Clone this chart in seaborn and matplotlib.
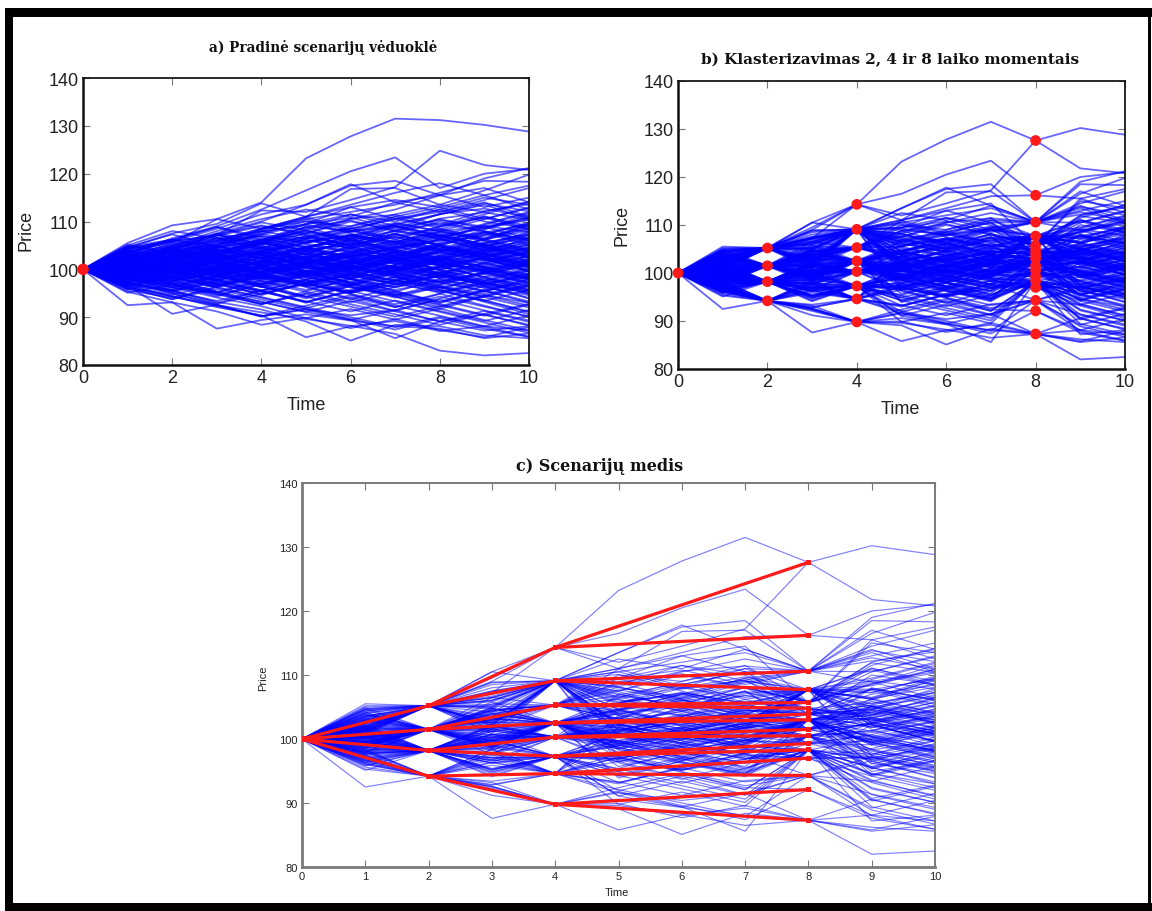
import numpy as np
import pandas as pd
import matplotlib
matplotlib.use("Agg")
import matplotlib.pyplot as plt
from matplotlib.patches import Rectangle
import seaborn as sns

# ---------------------------------------------------------------------------
# Scenario data: price paths at time steps 1..10 (every path starts at 100)
# ---------------------------------------------------------------------------
time_steps = list(range(11))
start_price = 100.0

upper_paths = [
    [102.5, 105.5, 110.5, 114.0, 123.2, 127.8, 131.5, 131.2, 130.2, 128.8],
    [103.0, 106.5, 109.0, 112.5, 116.5, 120.5, 123.4, 117.0, 120.0, 121.0],
    [101.5, 104.8, 107.2, 112.3, 112.0, 114.5, 117.2, 124.8, 121.8, 120.8],
    [101.0, 104.0, 107.5, 110.0, 113.5, 117.5, 118.5, 115.5, 119.0, 121.2],
    [102.0, 104.5, 106.0, 108.5, 111.0, 116.8, 117.0, 113.5, 116.5, 119.8],
    [101.2, 103.5, 105.8, 108.0, 110.5, 112.0, 113.5, 116.0, 118.5, 118.3],
    [100.5, 102.5, 104.5, 107.8, 109.5, 113.0, 114.5, 113.0, 115.5, 117.5],
    [102.8, 104.0, 107.0, 109.0, 107.5, 110.5, 112.5, 115.5, 117.0, 114.0],
    [103.5, 105.8, 108.5, 111.5, 113.5, 117.8, 114.0, 115.5, 113.0, 115.0],
    [104.5, 107.5, 109.5, 113.8, 111.0, 113.5, 116.0, 118.0, 115.5, 112.5],
    [101.8, 105.0, 108.0, 110.5, 112.5, 111.0, 114.0, 112.0, 114.5, 117.0],
    [99.5, 102.5, 105.0, 108.5, 110.0, 109.0, 111.5, 113.5, 112.0, 114.0],
    [102.2, 103.0, 106.5, 105.5, 108.5, 111.5, 110.0, 112.5, 115.0, 113.5],
    [100.8, 103.8, 102.5, 105.5, 109.0, 108.0, 111.0, 113.0, 110.5, 112.8],
    [103.8, 102.5, 104.5, 107.0, 105.5, 108.5, 110.5, 109.0, 111.5, 114.2],
    [105.5, 109.2, 110.5, 108.5, 111.0, 113.0, 110.5, 112.0, 114.0, 111.0],
    [104.0, 106.0, 103.5, 106.0, 108.0, 106.5, 109.5, 111.5, 113.5, 110.5],
    [101.0, 100.5, 103.5, 106.5, 104.5, 107.0, 109.5, 108.0, 110.5, 113.0],
    [102.5, 105.0, 107.5, 106.0, 109.5, 111.5, 109.0, 107.0, 109.5, 112.0],
    [99.0, 101.5, 104.0, 103.0, 106.5, 108.5, 110.5, 112.5, 110.0, 108.5],
    [103.2, 101.0, 103.0, 105.5, 107.5, 110.0, 108.0, 110.5, 108.5, 111.5],
    [104.8, 103.5, 106.0, 108.5, 110.5, 108.0, 106.5, 109.0, 111.0, 109.0],
    [100.2, 103.0, 101.5, 104.0, 102.5, 105.5, 108.0, 106.5, 109.0, 110.5],
    [101.5, 99.5, 102.0, 104.5, 107.0, 105.0, 107.5, 110.0, 108.0, 106.0],
    [105.0, 108.0, 106.5, 104.0, 106.5, 109.0, 111.0, 108.5, 106.5, 109.5],
]

middle_paths = [
    [100.7, 102.9, 101.4, 103.8, 105.1, 103.6, 106.2, 104.3, 107.0, 108.4],
    [98.6, 100.9, 103.1, 101.2, 103.9, 105.2, 103.3, 106.4, 104.1, 101.8],
    [101.3, 99.2, 101.6, 103.7, 101.9, 99.8, 102.7, 104.9, 103.2, 105.8],
    [102.4, 104.7, 102.2, 100.9, 102.3, 104.6, 106.8, 104.2, 102.9, 104.4],
    [97.8, 99.4, 101.9, 103.2, 101.1, 103.8, 101.6, 99.2, 101.3, 103.9],
    [99.1, 97.3, 99.8, 98.2, 100.7, 102.9, 104.1, 102.6, 100.6, 98.7],
    [103.1, 101.2, 99.6, 101.4, 103.9, 102.2, 100.1, 102.8, 104.6, 106.9],
    [100.1, 102.6, 104.2, 102.1, 99.7, 98.3, 100.9, 102.4, 100.2, 101.7],
    [96.4, 98.9, 100.2, 99.1, 101.4, 103.3, 101.2, 99.8, 97.6, 100.3],
    [104.2, 101.8, 104.3, 106.1, 103.8, 102.1, 104.9, 102.2, 100.4, 98.1],
    [97.9, 100.3, 98.2, 100.8, 98.7, 96.6, 99.3, 101.6, 103.1, 100.8],
    [101.6, 103.8, 101.1, 99.2, 97.3, 99.9, 101.8, 99.1, 97.4, 95.6],
    [99.4, 101.7, 103.9, 105.6, 103.2, 105.9, 107.4, 104.8, 103.3, 101.2],
    [102.1, 99.7, 98.3, 100.4, 102.6, 104.3, 101.8, 104.2, 106.3, 104.1],
    [96.8, 95.4, 97.9, 99.6, 101.8, 99.7, 97.6, 100.4, 102.2, 99.6],
    [100.9, 98.6, 100.7, 103.1, 100.8, 98.9, 96.8, 99.4, 101.3, 103.4],
    [103.6, 105.7, 103.2, 105.3, 107.4, 104.8, 102.7, 100.8, 103.4, 101.2],
    [98.7, 96.8, 95.2, 97.8, 99.3, 101.7, 103.8, 101.3, 99.1, 97.2],
    [101.3, 103.4, 105.0, 102.8, 100.6, 103.2, 105.3, 107.2, 104.7, 107.9],
    [99.3, 101.2, 98.8, 96.7, 99.2, 97.3, 99.8, 101.9, 99.3, 101.8],
    [102.7, 100.6, 103.1, 100.5, 98.6, 101.1, 103.0, 105.2, 102.6, 100.4],
    [95.9, 98.2, 96.3, 98.7, 100.9, 98.1, 96.2, 98.9, 100.7, 102.8],
    [104.6, 102.3, 100.2, 98.4, 100.8, 102.9, 100.3, 98.2, 96.1, 98.4],
    [100.2, 97.8, 100.3, 102.4, 104.3, 106.6, 103.9, 101.7, 104.2, 106.1],
    [98.1, 100.4, 102.6, 100.1, 97.9, 100.5, 102.4, 99.9, 97.8, 95.9],
    [101.9, 104.2, 106.1, 104.4, 106.9, 108.7, 106.2, 108.9, 110.8, 108.3],
    [97.2, 99.1, 97.0, 94.8, 96.9, 99.2, 97.3, 95.1, 97.6, 99.7],
    [103.3, 105.1, 107.3, 109.2, 107.1, 104.9, 107.3, 105.2, 107.8, 105.4],
    [99.8, 102.1, 99.9, 97.6, 95.7, 97.9, 100.1, 102.3, 104.4, 102.2],
    [100.4, 101.2, 103.6, 105.8, 108.1, 106.2, 104.1, 106.8, 108.6, 110.9],
    [96.2, 94.7, 96.8, 94.9, 97.1, 95.2, 97.4, 99.6, 97.2, 94.8],
    [102.9, 100.7, 98.9, 96.8, 98.7, 96.4, 94.6, 96.8, 99.1, 101.3],
    [98.9, 101.4, 99.3, 101.6, 99.4, 101.9, 99.7, 97.4, 95.3, 97.7],
    [104.1, 106.3, 104.2, 102.3, 104.6, 106.9, 109.1, 107.2, 105.1, 103.0],
    [100.6, 98.4, 96.3, 98.8, 101.2, 103.5, 105.7, 108.0, 105.9, 103.6],
    [97.6, 99.8, 102.1, 104.4, 102.2, 100.3, 98.2, 100.6, 98.4, 96.3],
    [101.7, 99.6, 97.8, 95.6, 97.8, 100.2, 102.1, 99.8, 102.4, 104.7],
    [99.6, 97.4, 99.7, 101.8, 99.6, 97.2, 95.1, 93.2, 95.7, 97.9],
    [102.3, 104.6, 106.7, 104.5, 102.4, 100.2, 102.7, 105.1, 107.3, 109.6],
    [98.3, 96.1, 98.4, 100.6, 102.9, 100.7, 98.6, 96.4, 94.2, 96.5],
    [103.9, 101.7, 103.8, 101.5, 99.3, 101.6, 99.4, 97.2, 99.5, 97.3],
    [100.3, 102.4, 100.1, 102.5, 104.7, 102.5, 100.2, 102.6, 100.3, 98.1],
    [97.3, 95.2, 97.5, 95.3, 93.2, 95.4, 97.7, 95.5, 93.4, 91.2],
    [101.4, 103.7, 101.5, 99.2, 101.5, 99.3, 101.7, 103.9, 106.2, 104.0],
    [99.9, 102.2, 104.4, 102.2, 104.5, 102.3, 104.6, 106.9, 104.7, 102.5],
]

lower_paths = [
    [97.5, 95.0, 92.5, 91.0, 89.6, 88.2, 86.5, 83.0, 82.0, 82.5],
    [92.5, 93.1, 87.6, 89.4, 90.6, 89.3, 88.1, 87.6, 85.6, 86.6],
    [96.1, 94.4, 92.1, 90.4, 85.8, 88.1, 89.2, 87.1, 88.1, 87.2],
    [97.1, 95.6, 93.2, 91.6, 89.1, 85.1, 88.4, 88.1, 86.2, 85.6],
    [98.1, 96.2, 95.1, 93.2, 91.1, 89.4, 85.6, 89.1, 87.2, 88.1],
    [96.6, 90.7, 92.6, 90.2, 91.6, 90.4, 91.5, 89.1, 90.6, 88.2],
    [95.3, 93.1, 91.2, 88.4, 89.9, 87.7, 89.6, 87.3, 85.8, 87.9],
    [96.8, 94.2, 92.6, 90.1, 91.8, 89.6, 87.4, 89.8, 87.6, 85.9],
    [98.4, 96.3, 94.1, 92.3, 89.8, 91.7, 89.5, 91.8, 89.4, 87.2],
    [95.8, 97.6, 95.4, 93.2, 91.1, 93.4, 91.2, 89.1, 91.3, 89.0],
    [99.2, 97.1, 94.9, 92.8, 94.9, 92.7, 90.6, 88.4, 90.7, 92.8],
    [97.4, 95.3, 93.4, 95.6, 93.3, 91.2, 93.5, 91.3, 89.2, 91.5],
    [96.3, 98.4, 96.2, 94.1, 91.9, 94.2, 92.1, 94.3, 92.2, 90.1],
    [98.7, 96.5, 98.6, 96.4, 94.3, 92.2, 90.1, 92.3, 94.6, 92.4],
    [95.1, 96.9, 94.8, 92.7, 94.9, 97.1, 94.9, 92.7, 90.5, 88.4],
    [99.5, 97.3, 95.2, 97.4, 95.3, 93.1, 95.4, 93.2, 95.5, 93.3],
    [97.9, 95.7, 97.8, 95.6, 97.7, 95.5, 93.3, 91.1, 88.9, 86.7],
    [96.0, 93.8, 95.9, 93.7, 91.6, 89.4, 91.5, 93.7, 91.4, 89.3],
    [98.9, 100.8, 98.6, 96.4, 94.2, 96.5, 94.3, 92.1, 94.4, 96.7],
    [97.0, 94.9, 92.8, 94.9, 97.1, 94.9, 92.7, 94.9, 97.2, 95.0],
    [95.6, 94.1, 96.3, 94.2, 92.1, 90.0, 87.9, 90.1, 88.0, 85.9],
    [99.0, 96.8, 94.6, 96.9, 99.1, 96.9, 94.7, 92.5, 90.3, 92.6],
    [97.7, 99.8, 97.5, 95.4, 93.2, 95.5, 97.8, 95.6, 93.4, 95.7],
    [96.5, 94.4, 92.3, 90.2, 92.4, 94.6, 92.4, 90.3, 88.1, 90.4],
    [98.5, 96.4, 98.5, 100.7, 98.5, 96.3, 94.1, 96.4, 94.2, 92.0],
]

core_paths = [
    [103.4, 105.9, 107.1, 109.8, 108.2, 110.6, 111.4, 109.3, 112.2, 113.6],
    [104.7, 106.2, 104.9, 107.3, 109.4, 110.8, 108.5, 111.6, 112.7, 110.9],
    [102.6, 104.1, 107.3, 105.2, 106.6, 104.3, 107.1, 108.4, 106.2, 109.3],
    [101.1, 103.9, 105.2, 107.4, 105.8, 107.1, 105.6, 107.9, 109.1, 107.8],
    [105.2, 103.6, 105.1, 107.9, 109.3, 107.8, 109.2, 111.5, 113.8, 112.1],
    [100.9, 102.7, 105.8, 103.4, 105.6, 107.9, 109.2, 106.8, 105.3, 107.6],
    [103.7, 101.9, 103.3, 105.6, 104.1, 105.3, 108.2, 110.6, 111.9, 110.4],
    [99.7, 102.3, 104.6, 106.1, 108.8, 110.2, 108.1, 106.6, 108.7, 110.3],
    [102.0, 104.6, 102.4, 103.8, 106.1, 104.5, 102.7, 105.4, 107.2, 109.8],
    [104.3, 106.1, 108.9, 106.7, 104.6, 106.0, 108.8, 110.3, 108.9, 106.4],
    [100.3, 101.1, 99.6, 101.7, 103.3, 101.2, 103.8, 102.1, 104.2, 102.7],
    [99.4, 100.7, 98.9, 100.2, 98.4, 100.9, 99.1, 100.6, 98.3, 99.7],
    [101.8, 100.6, 102.3, 100.7, 102.9, 101.1, 103.4, 101.6, 99.8, 101.3],
    [98.4, 99.7, 101.2, 99.5, 101.6, 100.1, 98.6, 100.3, 102.6, 100.9],
    [102.4, 101.3, 99.8, 101.9, 100.4, 102.7, 104.1, 102.3, 103.8, 101.7],
    [100.6, 99.1, 100.8, 98.7, 97.3, 98.9, 100.6, 98.8, 97.1, 98.6],
    [97.8, 99.3, 97.6, 99.2, 100.9, 99.4, 97.7, 96.2, 98.1, 96.6],
    [101.5, 102.8, 101.2, 102.9, 101.3, 103.1, 101.6, 103.7, 105.3, 103.9],
    [99.1, 98.2, 99.9, 101.4, 99.7, 98.1, 99.8, 101.5, 99.9, 98.2],
    [100.1, 101.6, 103.2, 101.7, 100.2, 101.8, 100.3, 98.7, 100.4, 102.1],
    [102.9, 103.6, 102.1, 103.7, 102.2, 100.6, 102.4, 100.9, 102.6, 104.3],
    [98.9, 97.6, 99.1, 97.4, 98.9, 100.5, 98.8, 97.2, 95.6, 97.3],
    [101.1, 102.3, 103.9, 102.4, 104.1, 102.6, 101.1, 102.8, 101.2, 99.6],
    [99.6, 100.9, 99.3, 97.8, 99.4, 97.9, 96.3, 97.8, 96.2, 94.6],
    [100.4, 99.3, 97.9, 99.5, 101.1, 102.7, 101.2, 102.9, 104.5, 102.9],
]

calm_paths = [
    [101.9, 103.2, 104.8, 103.1, 105.7, 106.9, 105.2, 107.8, 106.1, 108.7],
    [98.2, 96.9, 98.7, 100.3, 99.0, 101.4, 102.8, 101.1, 99.6, 100.9],
    [102.6, 101.0, 102.9, 104.5, 106.2, 104.4, 105.9, 104.1, 102.8, 104.6],
    [99.3, 100.8, 102.7, 101.0, 99.2, 100.7, 99.1, 97.5, 99.3, 97.9],
    [100.8, 102.1, 100.6, 98.9, 100.4, 98.8, 100.5, 102.3, 103.7, 105.2],
    [97.4, 98.8, 100.6, 102.2, 100.3, 101.9, 103.6, 101.7, 103.4, 105.0],
    [103.9, 102.4, 100.7, 102.5, 101.0, 102.8, 104.5, 106.3, 104.6, 103.0],
    [99.8, 98.3, 96.7, 98.4, 96.9, 95.2, 96.9, 98.6, 96.8, 95.1],
    [101.2, 99.6, 101.3, 99.7, 101.5, 103.2, 104.8, 103.1, 105.0, 106.6],
    [98.7, 100.2, 98.6, 96.9, 98.5, 100.1, 101.8, 103.6, 101.9, 100.2],
    [104.4, 105.8, 107.2, 105.5, 103.9, 105.6, 103.8, 102.1, 103.9, 105.7],
    [100.5, 101.8, 103.3, 104.9, 103.2, 101.6, 103.3, 101.5, 99.8, 98.2],
    [96.9, 98.3, 99.8, 98.1, 96.5, 98.2, 99.9, 98.2, 100.0, 101.6],
    [102.1, 100.4, 98.8, 100.6, 102.3, 100.5, 98.9, 100.7, 102.4, 100.8],
    [99.0, 100.6, 102.2, 103.9, 105.5, 107.2, 105.6, 103.8, 105.6, 107.3],
    [101.6, 103.3, 101.7, 100.0, 98.3, 96.7, 98.4, 96.6, 94.9, 96.6],
    [100.0, 98.5, 100.1, 101.7, 103.3, 101.6, 100.0, 98.3, 100.1, 98.4],
    [103.1, 104.7, 106.4, 108.0, 106.3, 108.0, 109.7, 108.0, 106.3, 108.1],
    [98.0, 99.5, 97.9, 96.3, 97.9, 96.2, 94.6, 96.3, 94.6, 93.0],
    [101.4, 102.7, 101.1, 102.8, 104.4, 102.7, 104.4, 106.1, 107.8, 106.1],
    [99.5, 97.9, 99.4, 100.9, 99.2, 100.8, 102.4, 100.7, 102.4, 104.0],
    [102.8, 104.2, 102.6, 101.0, 102.6, 104.3, 102.6, 104.3, 102.6, 100.9],
    [97.1, 95.6, 97.2, 98.8, 100.4, 98.7, 97.0, 98.7, 97.0, 98.8],
    [100.9, 102.5, 104.0, 102.4, 100.8, 99.2, 100.8, 99.1, 97.4, 99.1],
    [104.9, 103.3, 104.8, 103.1, 104.7, 106.3, 108.0, 109.6, 107.9, 106.2],
    [99.1, 100.5, 99.0, 100.6, 99.0, 97.3, 95.7, 97.4, 99.1, 100.8],
    [101.7, 100.2, 101.8, 103.4, 101.8, 103.5, 101.8, 100.1, 101.8, 103.5],
    [98.5, 100.1, 101.7, 100.1, 101.7, 100.0, 101.7, 103.4, 105.1, 103.4],
    [102.3, 103.8, 105.4, 107.0, 105.4, 103.7, 102.1, 103.8, 105.5, 107.2],
    [100.2, 98.6, 97.0, 95.4, 97.0, 98.7, 97.0, 95.3, 97.0, 95.3],
    [96.7, 98.2, 96.6, 98.2, 99.8, 101.4, 99.7, 101.4, 99.7, 98.0],
    [103.5, 102.0, 103.6, 105.2, 106.8, 105.1, 106.8, 105.1, 103.4, 101.7],
    [99.7, 101.3, 99.7, 98.1, 99.7, 101.3, 103.0, 104.7, 103.0, 101.3],
    [101.0, 99.4, 97.8, 99.4, 101.0, 99.3, 97.6, 99.3, 101.0, 102.7],
    [98.9, 100.4, 102.0, 103.6, 102.0, 103.6, 105.3, 103.6, 101.9, 103.6],
    [102.5, 104.0, 102.4, 104.0, 105.6, 107.3, 105.6, 103.9, 102.2, 100.5],
    [100.4, 101.9, 100.3, 98.7, 97.1, 98.7, 100.4, 102.1, 100.4, 98.7],
    [97.7, 99.2, 100.7, 99.1, 100.7, 102.3, 100.6, 98.9, 97.2, 95.5],
    [101.3, 102.9, 104.5, 106.1, 107.7, 106.0, 104.3, 106.0, 107.7, 109.4],
    [99.9, 98.4, 99.9, 98.3, 96.7, 95.1, 96.8, 98.5, 96.8, 98.5],
]

swing_paths = [
    [103.0, 100.2, 102.9, 105.8, 103.1, 106.4, 109.0, 106.2, 109.3, 111.8],
    [97.0, 99.8, 97.1, 94.6, 97.3, 94.8, 92.1, 94.9, 92.4, 90.1],
    [101.5, 104.3, 101.7, 99.0, 96.4, 99.1, 101.9, 99.2, 96.5, 99.3],
    [98.3, 95.7, 98.4, 101.1, 103.7, 101.0, 98.4, 95.8, 98.5, 101.2],
    [104.1, 101.5, 98.8, 101.6, 104.4, 107.1, 104.5, 107.2, 104.6, 107.3],
    [99.4, 102.1, 104.8, 102.2, 99.6, 96.9, 99.6, 102.3, 105.0, 102.4],
    [100.6, 97.9, 95.3, 92.7, 95.4, 98.1, 95.5, 92.9, 95.6, 93.0],
    [102.7, 105.4, 102.8, 105.5, 108.2, 105.6, 102.9, 105.6, 108.3, 110.9],
    [96.6, 99.3, 102.0, 99.4, 96.8, 99.5, 102.2, 104.9, 102.3, 99.7],
    [101.9, 99.3, 96.7, 99.4, 102.1, 104.8, 107.5, 104.9, 102.3, 99.7],
    [99.2, 101.9, 99.3, 101.9, 104.6, 102.0, 99.4, 96.8, 99.5, 96.9],
    [103.6, 106.2, 108.8, 106.2, 103.6, 101.0, 103.7, 106.4, 103.8, 106.5],
    [98.1, 95.5, 92.9, 95.6, 93.0, 95.7, 98.4, 95.8, 93.2, 90.6],
    [100.1, 102.8, 105.5, 108.2, 110.9, 108.3, 105.7, 108.4, 111.1, 108.5],
    [101.4, 98.8, 101.5, 98.9, 96.3, 93.7, 96.4, 99.1, 96.5, 93.9],
    [97.5, 100.2, 97.6, 100.3, 97.7, 95.1, 97.8, 100.5, 103.2, 100.6],
    [102.2, 99.6, 102.3, 105.0, 102.4, 99.8, 102.5, 99.9, 102.6, 105.3],
    [99.6, 96.9, 99.6, 96.9, 94.3, 96.9, 94.3, 91.7, 94.4, 97.1],
    [104.6, 107.3, 104.7, 107.4, 110.1, 107.5, 104.9, 107.6, 105.0, 102.4],
    [100.7, 103.4, 100.8, 103.5, 100.9, 98.3, 101.0, 103.7, 106.4, 109.1],
    [98.8, 96.2, 98.9, 96.3, 98.9, 101.6, 98.9, 96.2, 93.6, 91.0],
    [101.1, 103.8, 106.5, 103.9, 101.3, 104.0, 101.4, 98.8, 101.5, 98.9],
    [99.0, 101.7, 99.1, 96.5, 93.9, 96.6, 99.3, 102.0, 99.4, 102.1],
    [103.3, 100.7, 103.4, 106.1, 108.8, 106.2, 103.6, 101.0, 103.7, 106.4],
    [97.9, 100.6, 103.3, 100.7, 103.4, 106.1, 103.5, 100.9, 98.3, 95.7],
    [100.3, 97.7, 100.4, 103.1, 100.5, 97.9, 95.3, 98.0, 95.4, 98.1],
    [102.0, 104.7, 102.1, 99.5, 102.2, 104.9, 102.3, 104.9, 107.6, 105.0],
    [96.3, 93.7, 96.4, 99.1, 96.5, 93.9, 91.3, 93.9, 96.6, 94.0],
    [101.8, 104.5, 107.2, 104.6, 102.0, 99.4, 102.1, 104.8, 102.2, 99.6],
    [99.5, 96.9, 94.3, 97.0, 99.7, 97.1, 99.8, 102.5, 105.2, 102.6],
]

# Scenario tree: cluster centres at times 2, 4 and 8 and their parents
nodes_t2 = [105.2, 101.5, 98.2, 94.2]
nodes_t4 = [114.3, 109.1, 105.3, 102.5, 100.3, 97.3, 94.6, 89.8]
parent_t4 = [0, 0, 1, 1, 2, 2, 3, 3]
nodes_t8 = [127.6, 116.2, 110.6, 107.7, 105.7, 104.8, 103.9, 103.0,
            101.5, 100.5, 99.3, 98.3, 97.0, 94.3, 92.1, 87.3]
parent_t8 = [0, 0, 1, 1, 2, 2, 3, 3, 4, 4, 5, 5, 6, 6, 7, 7]

# ---------------------------------------------------------------------------
# Build the fan and the clustered fan
# ---------------------------------------------------------------------------
all_paths = (upper_paths + middle_paths + lower_paths + core_paths
             + calm_paths + swing_paths)
fan = np.array([[start_price] + p for p in all_paths])


def nearest_child(value, nodes, parents, parent_idx):
    kids = [j for j, par in enumerate(parents) if par == parent_idx]
    return min(kids, key=lambda j: abs(value - nodes[j]))


clustered = fan.copy()
for i, path in enumerate(fan):
    c2 = int(np.argmin(np.abs(np.array(nodes_t2) - path[2])))
    c4 = nearest_child(path[4], nodes_t4, parent_t4, c2)
    c8 = nearest_child(path[8], nodes_t8, parent_t8, c4)
    clustered[i, 2] = nodes_t2[c2]
    clustered[i, 4] = nodes_t4[c4]
    clustered[i, 8] = nodes_t8[c8]


def to_long(arr):
    n = arr.shape[0]
    return pd.DataFrame({
        "path": np.repeat(np.arange(n), len(time_steps)),
        "Time": np.tile(time_steps, n),
        "Price": arr.ravel(),
    })


fan_df = to_long(fan)
clustered_df = to_long(clustered)

# Tree edges (root -> t2 -> t4 -> t8)
edge_rows = []
eid = 0
for j, v in enumerate(nodes_t2):
    edge_rows += [(eid, 0, start_price), (eid, 2, v)]
    eid += 1
for j, v in enumerate(nodes_t4):
    edge_rows += [(eid, 2, nodes_t2[parent_t4[j]]), (eid, 4, v)]
    eid += 1
for j, v in enumerate(nodes_t8):
    edge_rows += [(eid, 4, nodes_t4[parent_t8[j]]), (eid, 8, v)]
    eid += 1
edges_df = pd.DataFrame(edge_rows, columns=["edge", "Time", "Price"])

node_df = pd.DataFrame({
    "Time": [0] + [2] * len(nodes_t2) + [4] * len(nodes_t4) + [8] * len(nodes_t8),
    "Price": [start_price] + nodes_t2 + nodes_t4 + nodes_t8,
})

# ---------------------------------------------------------------------------
# Figure
# ---------------------------------------------------------------------------
sns.set_style("ticks")
plt.rcParams["font.family"] = ["Liberation Sans", "DejaVu Sans"]

W, H = 1152, 912
fig = plt.figure(figsize=(W / 100, H / 100), dpi=100)
fig.patch.set_facecolor("white")


def px_axes(x0, y0, x1, y1):
    return fig.add_axes([x0 / W, 1 - y1 / H, (x1 - x0) / W, (y1 - y0) / H])


ax_a = px_axes(83, 79, 529, 366)
ax_b = px_axes(678, 82, 1125, 370)
ax_c = px_axes(302, 484, 935, 868)

BLUE = "#0000ff"
RED = "#ff1a1a"


def style_axes(ax, xticks, fsize, spine_color, spine_w, xlab_pos, ylab_pos):
    ax.set_xlim(0, 10)
    ax.set_ylim(80, 140)
    ax.set_xticks(xticks)
    ax.set_yticks(range(80, 141, 10))
    ax.tick_params(direction="in", length=5, width=0.8, top=True, right=True,
                   color="#777777", labelsize=fsize, labelcolor="#222222", pad=3)
    for side, sp in ax.spines.items():
        sp.set_visible(True)
        sp.set_color(spine_color)
        sp.set_linewidth(spine_w if side in ("left", "bottom") else spine_w * 0.7)
    ax.set_xlabel("Time", fontsize=fsize, color="#222222")
    ax.set_ylabel("Price", fontsize=fsize, color="#222222")
    ax.xaxis.set_label_coords(*xlab_pos)
    ax.yaxis.set_label_coords(*ylab_pos)
    ax.set_facecolor("white")


# a) initial scenario fan
sns.lineplot(data=fan_df, x="Time", y="Price", units="path", estimator=None,
             color=BLUE, linewidth=1.3, alpha=0.6, sort=False, legend=False,
             ax=ax_a)
sns.scatterplot(x=[0], y=[start_price], color=RED, s=70, edgecolor="none",
                ax=ax_a, zorder=5, clip_on=False)

# b) clustering at times 2, 4 and 8
sns.lineplot(data=clustered_df, x="Time", y="Price", units="path",
             estimator=None, color=BLUE, linewidth=1.3, alpha=0.6, sort=False,
             legend=False, ax=ax_b)
sns.scatterplot(data=node_df, x="Time", y="Price", color=RED, s=60,
                edgecolor="none", ax=ax_b, zorder=5, clip_on=False)

# c) scenario tree
sns.lineplot(data=clustered_df, x="Time", y="Price", units="path",
             estimator=None, color=BLUE, linewidth=0.85, alpha=0.5, sort=False,
             legend=False, ax=ax_c)
sns.lineplot(data=edges_df, x="Time", y="Price", units="edge", estimator=None,
             color=RED, linewidth=2.3, sort=False, legend=False, ax=ax_c,
             zorder=4)
sns.scatterplot(data=node_df, x="Time", y="Price", color=RED, s=14,
                marker="s", edgecolor="none", ax=ax_c, zorder=5)

style_axes(ax_a, range(0, 11, 2), 13, "#111111", 1.8, (0.5, -0.108), (-0.108, 0.474))
style_axes(ax_b, range(0, 11, 2), 13, "#111111", 1.8, (0.497, -0.108), (-0.107, 0.503))
style_axes(ax_c, range(0, 11, 1), 8, "#7a7a7a", 2.0, (0.4976, -0.052), (-0.054, 0.495))

# Panel titles
title_kw = dict(family=["DejaVu Serif"], fontweight="bold", ha="center",
                va="center", color="#111111")
fig.text(323 / W, 1 - 48 / H, "a) Pradinė scenarijų vėduoklė", fontsize=9.8, **title_kw)
fig.text(890 / W, 1 - 60 / H, "b) Klasterizavimas 2, 4 ir 8 laiko momentais",
         fontsize=11, **title_kw)
fig.text(600 / W, 1 - 467 / H, "c) Scenarijų medis", fontsize=11.5, **title_kw)

# Black page frame
frame = [(5, 9, W - 5, 9), (5, 9, 8, H - 9), (5, 904, W - 5, 8), (W - 4, 9, 3, H - 9)]
for x, y, w, h in frame:
    fig.patches.append(Rectangle((x / W, 1 - (y + h) / H), w / W, h / H,
                                 transform=fig.transFigure, facecolor="black",
                                 edgecolor="none", zorder=10))

fig.savefig("out.png", dpi=100, facecolor="white")
